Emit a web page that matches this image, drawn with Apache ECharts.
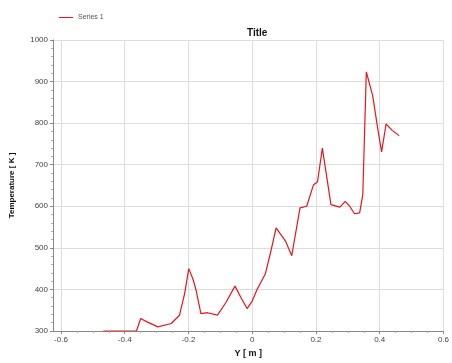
<!DOCTYPE html>
<html>
<head>
<meta charset="utf-8">
<script src="https://cdn.jsdelivr.net/npm/echarts@6/dist/echarts.min.js"></script>
<style>
  html, body { margin: 0; padding: 0; background: #fff; }
  #chart { width: 452px; height: 363px; }
</style>
</head>
<body>
<div id="chart"></div>
<script>
// Temperature profile along Y
const positions = [
  -0.467, -0.363, -0.350, -0.330, -0.296, -0.254, -0.228, -0.212, -0.199, -0.186,
  -0.176, -0.161, -0.140, -0.109, -0.083, -0.054, -0.035, -0.016, 0.000, 0.016,
  0.041, 0.058, 0.075, 0.104, 0.124, 0.150, 0.171, 0.192, 0.205, 0.220,
  0.233, 0.247, 0.275, 0.292, 0.306, 0.321, 0.337, 0.347, 0.358, 0.378,
  0.394, 0.406, 0.420, 0.440, 0.461
];
const temperatures = [
  300, 300, 330, 322, 310, 318, 338, 390, 450, 425,
  398, 342, 344, 338, 368, 408, 380, 354, 372, 401,
  437, 490, 548, 517, 481, 596, 600, 651, 659, 740,
  675, 604, 598, 612, 600, 582, 584, 628, 923, 866,
  786, 731, 798, 782, 770
];
const xTicks = [-0.6, -0.4, -0.2, 0, 0.2, 0.4, 0.6];
const xMinorTicks = [-0.55, -0.5, -0.45, -0.35, -0.3, -0.25, -0.15, -0.1, -0.05,
  0.05, 0.1, 0.15, 0.25, 0.3, 0.35, 0.45, 0.5, 0.55];
const seriesName = 'Series 1';

const chart = echarts.init(document.getElementById('chart'), null, { renderer: 'canvas' });
const labelFont = { fontFamily: 'Liberation Sans', fontSize: 8, color: '#444' };
const xMin = -0.625, xMax = 0.6;

chart.setOption({
  animation: false,
  backgroundColor: '#fff',
  title: {
    text: 'Title',
    left: 242, top: 23,
    textStyle: { fontFamily: 'Liberation Sans', fontSize: 10, fontWeight: 'bold', color: '#111' }
  },
  legend: {
    left: 54, top: 9,
    icon: 'rect', itemWidth: 14, itemHeight: 1, itemGap: 4,
    textStyle: { fontFamily: 'Liberation Sans', fontSize: 7, color: '#555' },
    data: [seriesName]
  },
  grid: { left: 51, right: 7, top: 40, bottom: 29, containLabel: false },
  xAxis: [{
    type: 'value',
    min: xMin, max: xMax,
    name: 'Y [ m ]', nameLocation: 'middle', nameGap: 18,
    nameTextStyle: { fontFamily: 'Liberation Sans', fontSize: 9, fontWeight: 'bold', color: '#111' },
    axisLine: { show: true, onZero: false, lineStyle: { color: '#888', width: 1 } },
    axisTick: { show: true, length: 3, customValues: xTicks, lineStyle: { color: '#888' } },
    axisLabel: Object.assign({ customValues: xTicks, margin: 5, formatter: v => String(+v.toFixed(1)) }, labelFont),
    splitLine: { show: true, lineStyle: { color: '#ddd', width: 1 } }
  }, {
    // minor ticks along the bottom axis
    type: 'value',
    position: 'bottom',
    min: xMin, max: xMax,
    axisLine: { show: false, onZero: false },
    axisTick: { show: true, length: 2, customValues: xMinorTicks, lineStyle: { color: '#aaa' } },
    axisLabel: { show: false },
    splitLine: { show: false }
  }],
  yAxis: {
    type: 'value',
    min: 300, max: 1000, interval: 100,
    name: 'Temperature [ K ]', nameLocation: 'middle', nameGap: 37,
    nameTextStyle: { fontFamily: 'Liberation Sans', fontSize: 8, fontWeight: 'bold', color: '#111' },
    axisLine: { show: true, onZero: false, lineStyle: { color: '#888', width: 1 } },
    axisTick: { show: true, length: 3, lineStyle: { color: '#888' } },
    minorTick: { show: true, splitNumber: 5, length: 2, lineStyle: { color: '#aaa' } },
    axisLabel: Object.assign({ margin: 5, formatter: v => String(v) }, labelFont),
    splitLine: { show: true, lineStyle: { color: '#ddd', width: 1 } }
  },
  series: [{
    name: seriesName,
    type: 'line',
    xAxisIndex: 0,
    data: positions.map((x, i) => [x, temperatures[i]]),
    showSymbol: false,
    symbol: 'none',
    lineStyle: { color: '#e8141e', width: 1.2 },
    itemStyle: { color: '#e8141e' }
  }]
});
</script>
</body>
</html>
